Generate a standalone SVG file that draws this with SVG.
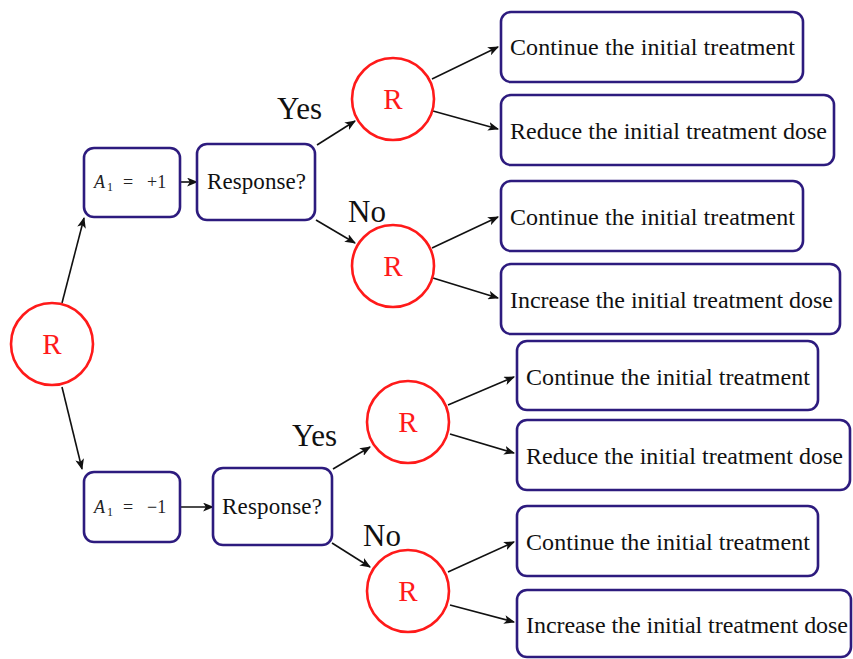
<svg xmlns="http://www.w3.org/2000/svg" width="853" height="659" viewBox="0 0 853 659">
<defs>
<marker id="ah" viewBox="0 0 10 8" refX="9" refY="4" markerWidth="11" markerHeight="9" markerUnits="userSpaceOnUse" orient="auto">
<path d="M0,0 L10,4 L0,8 L2.5,4 z" fill="#111"/>
</marker>
</defs>
<style>
text{font-family:"Liberation Serif","Times New Roman",serif}
.box{fill:#fff;stroke:#2d1b7e;stroke-width:2.6}
.rc{fill:#fff;stroke:#ff1a1a;stroke-width:2.6}
.rt{font-size:29px;fill:#ff1a1a;text-anchor:middle}
.bt{font-size:24px;fill:#111}
.resp{font-size:23px;fill:#111}
.lab{font-size:31px;fill:#111}
.math{font-size:18px;fill:#222}
.c{fill:none;stroke:#111;stroke-width:1.6;marker-end:url(#ah)}
</style>
<rect width="853" height="659" fill="#fff"/>
<g id="connectors">
<line class="c" x1="62" y1="303" x2="84" y2="218"/>
<line class="c" x1="62" y1="387" x2="82" y2="469"/>
<line class="c" x1="180" y1="182" x2="197" y2="182"/>
<line class="c" x1="180" y1="507" x2="213" y2="507"/>
<line class="c" x1="317" y1="145" x2="355" y2="121"/>
<line class="c" x1="316" y1="220" x2="355" y2="243"/>
<line class="c" x1="333" y1="469" x2="370" y2="447"/>
<line class="c" x1="332" y1="543" x2="370" y2="567"/>
<line class="c" x1="432" y1="79" x2="498" y2="47"/>
<line class="c" x1="433" y1="111" x2="498" y2="129"/>
<line class="c" x1="432" y1="248" x2="498" y2="217"/>
<line class="c" x1="433" y1="278" x2="498" y2="298"/>
<line class="c" x1="448" y1="405" x2="514" y2="377"/>
<line class="c" x1="450" y1="434" x2="514" y2="453"/>
<line class="c" x1="448" y1="572" x2="514" y2="542"/>
<line class="c" x1="450" y1="605" x2="514" y2="622"/>
</g>
<g id="labels">
<text class="lab" x="277" y="119">Yes</text>
<text class="lab" x="348" y="222">No</text>
<text class="lab" x="292" y="446">Yes</text>
<text class="lab" x="363" y="546">No</text>
</g>
<g id="r0"><circle class="rc" cx="52" cy="344" r="41"/><text class="rt" x="52" y="354">R</text></g>
<g id="a1p"><rect class="box" x="84" y="148" width="96" height="69" rx="10"/>
<text class="math" y="188"><tspan x="94" font-style="italic">A</tspan><tspan x="107" font-size="12" dy="3">1</tspan><tspan x="123" dy="-3">=</tspan><tspan x="147">+1</tspan></text></g>
<g id="resp1"><rect class="box" x="197" y="144" width="118" height="76" rx="10"/><text class="resp" x="207" y="189" textLength="99">Response?</text></g>
<g id="a1m"><rect class="box" x="84" y="472" width="96" height="70" rx="10"/>
<text class="math" y="513"><tspan x="94" font-style="italic">A</tspan><tspan x="107" font-size="12" dy="3">1</tspan><tspan x="123" dy="-3">=</tspan><tspan x="147">−1</tspan></text></g>
<g id="resp2"><rect class="box" x="213" y="468" width="119" height="77" rx="10"/><text class="resp" x="222" y="514" textLength="100">Response?</text></g>
<g id="r1"><circle class="rc" cx="393" cy="99" r="41"/><text class="rt" x="393" y="109">R</text></g>
<g id="r2"><circle class="rc" cx="393" cy="266" r="41"/><text class="rt" x="393" y="276">R</text></g>
<g id="r3"><circle class="rc" cx="408" cy="422" r="41"/><text class="rt" x="408" y="432">R</text></g>
<g id="r4"><circle class="rc" cx="408" cy="591" r="41"/><text class="rt" x="408" y="601">R</text></g>
<g id="b1"><rect class="box" x="501" y="12" width="302" height="70" rx="10"/><text class="bt" x="510" y="55" textLength="285">Continue the initial treatment</text></g>
<g id="b2"><rect class="box" x="501" y="95" width="333" height="70" rx="10"/><text class="bt" x="510" y="139" textLength="317">Reduce the initial treatment dose</text></g>
<g id="b3"><rect class="box" x="501" y="181" width="302" height="70" rx="10"/><text class="bt" x="510" y="225" textLength="285">Continue the initial treatment</text></g>
<g id="b4"><rect class="box" x="501" y="264" width="339" height="70" rx="10"/><text class="bt" x="510" y="308" textLength="323">Increase the initial treatment dose</text></g>
<g id="b5"><rect class="box" x="517" y="341" width="301" height="69" rx="10"/><text class="bt" x="526" y="385" textLength="284">Continue the initial treatment</text></g>
<g id="b6"><rect class="box" x="517" y="420" width="333" height="70" rx="10"/><text class="bt" x="526" y="464" textLength="317">Reduce the initial treatment dose</text></g>
<g id="b7"><rect class="box" x="517" y="506" width="301" height="70" rx="10"/><text class="bt" x="526" y="550" textLength="284">Continue the initial treatment</text></g>
<g id="b8"><rect class="box" x="517" y="590" width="334" height="67" rx="10"/><text class="bt" x="526" y="633" textLength="322">Increase the initial treatment dose</text></g>
</svg>
